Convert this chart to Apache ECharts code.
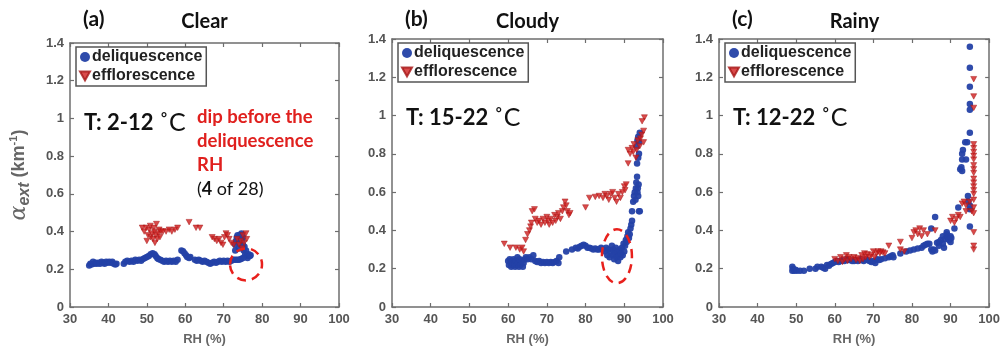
<!DOCTYPE html>
<html><head><meta charset="utf-8">
<script src="https://cdn.jsdelivr.net/npm/echarts@6/dist/echarts.min.js"></script>
<style>html,body{margin:0;padding:0;background:#fff}#c{width:1003px;height:351px}</style>
</head><body><div id="c"></div>
<script>
// ---------- data ----------
const panelLetters = ['(a)', '(b)', '(c)'];
const panelTitles = ['Clear', 'Cloudy', 'Rainy'];
const tempLabels = ['T: 2-12 ', 'T: 15-22 ', 'T: 12-22 '];
const seriesNames = ['deliquescence', 'efflorescence'];
const xTickMin = 30, xTickMax = 100, xTickStep = 10;
const yTickMin = 0, yTickMax = 1.4, yTickStep = 0.2;
const xName = 'RH (%)';
const noteLines = ['dip before the', 'deliquescence', 'RH'];
const noteCount = ['4', ' of 28)'];
// ellipse centres in data units [RH, value]
const dipCentres = [[75.8, 0.226], [88.1, 0.265]];

const aDeli = [[35.0,0.22],[35.3,0.23],[35.6,0.225],[36.0,0.24],[36.3,0.23],[36.7,0.235],[37.0,0.23],[37.4,0.235],[37.8,0.23],[38.2,0.24],[38.6,0.235],[39.0,0.23],[39.4,0.24],[39.8,0.235],[40.2,0.24],[40.6,0.235],[41.0,0.24],[41.4,0.23],[41.8,0.225],[42.1,0.23],
[44.0,0.23],[44.4,0.24],[44.9,0.245],[45.5,0.24],[46.0,0.245],[46.5,0.24],[47.0,0.25],[47.5,0.245],[48.0,0.25],[48.5,0.245],[49.0,0.255],[49.5,0.26],[50.0,0.265],[50.5,0.27],[51.0,0.28],[51.5,0.285],[52.0,0.28],[52.3,0.27],[52.7,0.26],[53.0,0.255],[53.5,0.25],[54.0,0.245],[54.5,0.24],[55.0,0.245],[55.5,0.24],[56.0,0.245],[56.5,0.24],[57.0,0.245],[57.5,0.24],[58.0,0.25],
[59.0,0.30],[59.4,0.295],[59.8,0.285],[60.2,0.275],[60.5,0.265],[61.0,0.26],[61.3,0.265],
[62.5,0.25],[63.0,0.245],[63.5,0.25],[64.0,0.245],[64.5,0.24],[65.0,0.245],[65.5,0.24],[66.0,0.235],[66.5,0.23],[67.0,0.235],[67.5,0.24],[68.0,0.235],[68.5,0.24],[69.0,0.245],[69.5,0.24],[70.0,0.245],[70.5,0.24],[71.0,0.245],[71.5,0.24],[72.0,0.245],[72.5,0.25],[73.0,0.25],
[73.0,0.30],[73.0,0.33],[73.2,0.35],[73.4,0.37],[73.6,0.38],[73.8,0.36],[74.0,0.34],[74.0,0.31],[74.2,0.38],[74.4,0.36],[74.6,0.39],[74.8,0.35],[75.0,0.33],[75.0,0.37],[75.2,0.30],[75.4,0.32],[75.6,0.28],[75.8,0.30],[76.0,0.27],[76.2,0.26],[76.5,0.28],[76.8,0.27],[77.0,0.275],[74.0,0.25],[74.5,0.255],[75.0,0.26],[73.5,0.25]];

const aEffl = [[48.8,0.42],[49.3,0.40],[49.8,0.42],[50.0,0.35],[50.3,0.38],[50.6,0.41],[50.9,0.43],[51.0,0.37],[51.3,0.39],[51.6,0.36],[51.8,0.42],[52.0,0.40],[52.1,0.34],[52.3,0.38],[52.5,0.44],[52.7,0.36],[53.0,0.39],[53.2,0.41],[53.4,0.37],[53.7,0.40],[54.2,0.40],[55.0,0.40],[55.8,0.41],[56.5,0.40],[57.3,0.41],[58.0,0.42],[61.0,0.45],[62.8,0.42],[63.8,0.42],[67.0,0.37],[67.6,0.36],[68.2,0.35],[68.8,0.36],[69.3,0.34],[69.8,0.33],[70.2,0.37],[70.6,0.39],[71.0,0.38],[71.4,0.36],[72.0,0.34],[72.6,0.33],[73.5,0.36],[74.0,0.33],[74.5,0.35],[75.0,0.38],[75.3,0.34],[75.8,0.39],[76.0,0.36],[74.8,0.31]];

const bDeli = [[60.0,0.24],[60.2,0.22],[60.4,0.25],[60.6,0.23],[60.8,0.21],[61.0,0.24],[61.2,0.22],[61.4,0.25],[61.6,0.23],[61.8,0.21],[62.0,0.24],[62.2,0.22],[62.4,0.26],[62.6,0.23],[62.8,0.21],[63.0,0.25],[63.2,0.22],[63.5,0.24],[63.8,0.21],[64.0,0.23],[64.3,0.25],[64.6,0.26],[65.0,0.25],[65.5,0.26],[66.0,0.25],[66.5,0.27],[67.0,0.24],[67.5,0.235],[68.0,0.24],[68.5,0.23],[69.0,0.235],[69.5,0.23],[70.0,0.235],[70.5,0.23],[71.0,0.235],[71.5,0.23],[72.0,0.235],[72.5,0.24],[73.0,0.23],[73.2,0.26],[75.0,0.29],[76.5,0.30],[77.5,0.31],[78.0,0.305],[78.5,0.315],[79.0,0.32],[79.5,0.325],[80.0,0.32],[80.5,0.31],[81.0,0.31],[81.5,0.305],[82.0,0.30],[82.5,0.305],[83.0,0.30],[83.5,0.30],[84.0,0.31],[84.5,0.30],
[85.0,0.29],[85.3,0.31],[85.6,0.27],[85.9,0.30],[86.2,0.26],[86.5,0.29],[86.8,0.32],[87.0,0.27],[87.2,0.30],[87.4,0.25],[87.6,0.28],[87.8,0.31],[88.0,0.26],[88.2,0.29],[88.4,0.24],[88.6,0.27],[88.8,0.30],[89.0,0.26],[89.2,0.28],[89.4,0.31],[89.6,0.27],[89.8,0.33],[90.0,0.29],[90.2,0.32],[90.4,0.35],[90.6,0.34],[90.8,0.37],[91.0,0.39],[91.2,0.36],[91.4,0.38],[91.6,0.41],[91.8,0.43],[92.0,0.45],[92.0,0.50],[92.3,0.55],[92.5,0.58],[92.7,0.60],[92.9,0.56],[93.0,0.62],[93.1,0.65],[93.3,0.68],[93.4,0.60],[93.6,0.58],[93.8,0.50],[94.0,0.50],[93.3,0.75],[93.6,0.78],[93.8,0.80],[93.2,0.84],[93.4,0.87],[93.6,0.89],[93.8,0.86],[94.0,0.91],[93.5,0.62],[93.7,0.64]];

const bEffl = [[59.0,0.33],[60.5,0.31],[62.0,0.31],[63.0,0.30],[63.6,0.31],[64.0,0.29],[64.5,0.35],[65.0,0.38],[65.5,0.40],[65.8,0.42],[66.0,0.44],[66.2,0.50],[66.8,0.51],[67.0,0.46],[67.5,0.44],[68.0,0.45],[68.5,0.43],[69.0,0.46],[69.5,0.44],[70.0,0.47],[70.3,0.45],[70.6,0.43],[71.0,0.46],[71.5,0.44],[72.0,0.48],[72.3,0.45],[72.7,0.47],[73.0,0.49],[73.5,0.46],[74.0,0.50],[74.3,0.52],[74.7,0.55],[75.0,0.53],[75.3,0.50],[75.7,0.48],[76.0,0.49],[80.0,0.52],[81.0,0.57],[82.5,0.575],[83.5,0.58],[84.5,0.57],[85.0,0.59],[85.5,0.58],[86.0,0.56],[86.5,0.59],[87.0,0.60],[87.5,0.57],[88.0,0.55],[88.5,0.59],[89.0,0.57],[89.5,0.60],[90.0,0.63],[90.5,0.64],[90.2,0.61],[91.0,0.75],[91.0,0.82],[91.5,0.80],[92.0,0.83],[92.3,0.81],[92.5,0.85],[93.0,0.78],[93.2,0.82],[93.5,0.87],[94.0,0.84],[94.2,0.88],[94.5,0.90],[95.0,0.86],[95.0,0.92],[95.2,0.99],[94.6,0.97]];

const cDeli = [[49.0,0.19],[49.0,0.21],[49.2,0.20],[49.5,0.19],[49.8,0.195],[50.2,0.19],[51.0,0.19],[52.0,0.19],[53.5,0.20],[55.0,0.20],[55.5,0.21],[56.5,0.21],[57.0,0.205],[57.5,0.20],[58.0,0.22],[58.5,0.215],[59.0,0.225],[59.5,0.23],[60.0,0.235],[60.5,0.24],[61.0,0.235],[61.5,0.24],[62.0,0.245],[62.5,0.24],[63.0,0.25],[63.5,0.245],[64.0,0.245],[64.5,0.24],[65.0,0.24],[65.5,0.245],[66.0,0.24],[66.5,0.25],[67.0,0.245],[67.5,0.24],[68.0,0.25],[68.5,0.245],[69.0,0.24],[69.5,0.235],[70.0,0.24],[70.5,0.23],[71.0,0.25],[71.5,0.245],[72.0,0.25],[73.0,0.255],[74.0,0.26],[74.5,0.265],[75.0,0.27],[75.2,0.26],[77.0,0.28],[78.5,0.29],[79.5,0.295],[80.5,0.30],[81.5,0.305],[82.5,0.31],[83.0,0.32],[83.5,0.325],[84.0,0.33],[84.5,0.33],[85.0,0.30],[85.3,0.29],[85.6,0.30],[86.0,0.295],[85.0,0.41],[86.0,0.47],[86.5,0.335],[87.0,0.32],[87.0,0.34],[87.5,0.35],[88.0,0.33],[88.0,0.37],[88.3,0.31],[88.6,0.355],[89.0,0.38],[89.0,0.39],[89.3,0.36],[89.6,0.35],[90.0,0.37],[90.0,0.34],[90.2,0.36],[91.0,0.41],[92.0,0.52],[92.5,0.72],[92.8,0.73],[93.0,0.71],[93.0,0.77],[93.0,0.80],[93.2,0.82],[93.8,0.86],[94.0,0.77],[94.3,0.86],[94.5,0.58],[94.6,0.55],[95.0,0.53],[95.0,0.51],[95.0,0.91],[95.0,1.03],[95.0,1.06],[95.0,1.15],[95.0,1.25],[95.0,1.36],[95.0,0.42]];

const cEffl = [[60.0,0.25],[60.8,0.24],[61.5,0.26],[62.0,0.235],[62.5,0.25],[63.0,0.27],[63.3,0.24],[63.7,0.26],[64.2,0.25],[65.0,0.26],[65.5,0.245],[66.0,0.255],[66.5,0.24],[67.0,0.27],[67.3,0.25],[67.7,0.28],[68.0,0.26],[68.5,0.275],[69.0,0.26],[69.5,0.27],[70.0,0.29],[70.3,0.26],[70.8,0.28],[71.2,0.29],[71.7,0.28],[72.0,0.29],[72.5,0.285],[73.0,0.28],[74.0,0.32],[77.0,0.34],[77.0,0.30],[78.0,0.29],[80.0,0.36],[80.5,0.39],[81.0,0.40],[81.5,0.38],[82.0,0.41],[82.5,0.37],[83.0,0.40],[84.0,0.38],[86.0,0.40],[90.0,0.45],[90.5,0.47],[91.0,0.44],[91.5,0.46],[92.0,0.48],[92.5,0.47],[93.0,0.54],[93.5,0.55],[94.0,0.50],[94.0,0.53],[95.0,0.55],[95.5,0.50],
[96.0,0.52],[96.0,0.49],[96.0,0.56],[96.0,0.59],[96.0,0.61],[96.0,0.63],[96.0,0.65],[96.0,0.67],[96.0,0.70],[96.0,0.72],[96.0,0.74],[96.0,0.77],[96.0,0.79],[96.0,0.81],[96.0,0.83],[96.0,0.85],[96.0,0.39],[96.0,0.32],[96.0,0.30],[96.0,1.04],[96.0,1.10],[96.0,1.19]];

const panelDeli = [aDeli, bDeli, cDeli];
const panelEffl = [aEffl, bEffl, cEffl];

// ---------- styles / layout ----------
const BLUE = '#2441a6', RED = '#d01e1e', AX = '#6e6e6e';
const triPath = 'path://M0,0L10,0L5,9Z';
const grids = [
  {left: 70, top: 43, width: 269, height: 266},
  {left: 392, top: 39, width: 271, height: 269},
  {left: 719, top: 39, width: 271, height: 271}
];
const tickFont = {color: '#555', fontWeight: 'bold', fontSize: 13, fontFamily: 'Liberation Sans, Arial, sans-serif'};

const xAxis = [], yAxis = [], series = [], legend = [];
grids.forEach((g, i) => {
  const line = {show: true, onZero: false, lineStyle: {color: AX, width: 1.5}};
  const tick = {show: true, inside: true, length: 4, lineStyle: {color: AX, width: 1.2}};
  xAxis.push({gridIndex: i, type: 'value', position: 'bottom', min: xTickMin, max: xTickMax, interval: xTickStep,
    axisLine: line, axisTick: tick, splitLine: {show: false},
    axisLabel: Object.assign({margin: 6}, tickFont),
    name: xName, nameLocation: 'middle', nameGap: 26,
    nameTextStyle: {color: '#666', fontWeight: 'bold', fontSize: 13, fontFamily: 'Liberation Sans, Arial, sans-serif'}});
  xAxis.push({gridIndex: i, type: 'value', position: 'top', min: xTickMin, max: xTickMax, interval: xTickStep,
    axisLine: line, axisTick: tick, splitLine: {show: false}, axisLabel: {show: false}});
  const yl = {gridIndex: i, type: 'value', position: 'left', min: yTickMin, max: yTickMax, interval: yTickStep,
    axisLine: line, axisTick: tick, splitLine: {show: false},
    axisLabel: Object.assign({margin: 6, formatter: v => String(+v.toFixed(1))}, tickFont)};
  if (i === 0) {
    yl.name = '{a|α}{s|ext}{p| (km}{u|-1}{p|)}';
    yl.nameLocation = 'middle';
    yl.nameRotate = 90;
    yl.nameGap = 36;
    yl.nameTextStyle = {color: '#666', rich: {
      a: {fontFamily: 'DejaVu Serif', fontStyle: 'italic', fontSize: 22, color: '#666', verticalAlign: 'middle', lineHeight: 30},
      s: {fontFamily: 'Liberation Sans', fontStyle: 'italic', fontWeight: 'bold', fontSize: 16, color: '#666', padding: [12, 0, 0, 0], lineHeight: 30},
      p: {fontFamily: 'Liberation Sans', fontWeight: 'bold', fontSize: 18, color: '#666', lineHeight: 30},
      u: {fontFamily: 'Liberation Sans', fontWeight: 'bold', fontSize: 11, color: '#666', padding: [0, 0, 10, 0], lineHeight: 30}
    }};
  }
  yAxis.push(yl);
  yAxis.push({gridIndex: i, type: 'value', position: 'right', min: yTickMin, max: yTickMax, interval: yTickStep,
    axisLine: line, axisTick: tick, splitLine: {show: false}, axisLabel: {show: false}});

  series.push({name: seriesNames[0], type: 'scatter', xAxisIndex: 2 * i, yAxisIndex: 2 * i,
    data: panelDeli[i], symbol: 'circle', symbolSize: 6.5, itemStyle: {color: BLUE, opacity: 0.95}});
  series.push({name: seriesNames[1], type: 'scatter', xAxisIndex: 2 * i, yAxisIndex: 2 * i,
    data: panelEffl[i], symbol: triPath, symbolSize: [6, 5.5], itemStyle: {color: RED, borderColor: '#a51515', borderWidth: 0.6}});

  legend.push({orient: 'vertical', left: g.left + 6, top: g.top + 4,
    backgroundColor: '#fff', borderColor: '#555', borderWidth: 1.5, borderRadius: 0,
    padding: [2, 4, 2, 3], itemGap: 3, itemWidth: 10, itemHeight: 10,
    textStyle: {fontSize: 16, fontWeight: 'bold', color: '#222', fontFamily: 'Liberation Sans, Arial, sans-serif', padding: [0, 0, 0, -3]},
    selectedMode: false,
    data: [{name: seriesNames[0], icon: 'circle', itemStyle: {color: BLUE}},
           {name: seriesNames[1], icon: triPath, itemStyle: {color: RED}}]});
});

const titleFont = 'Lato, "Open Sans", sans-serif';
const graphic = [];
grids.forEach((g, i) => {
  graphic.push({type: 'text', left: g.left + 13, top: 9, style: {text: panelLetters[i], font: 'bold 21px ' + titleFont, fill: '#111'}});
  graphic.push({type: 'text', x: g.left + g.width / 2, y: 22, style: {text: panelTitles[i], font: 'bold 20px ' + titleFont, fill: '#111', align: 'center', verticalAlign: 'middle'}});
  graphic.push({type: 'text', x: g.left + 14, y: 80 + (i === 0 ? 43 : 38), style: {
    text: '{t|' + tempLabels[i] + '}{d|˚C}', verticalAlign: 'middle',
    rich: {t: {font: 'bold 22px ' + titleFont, fill: '#111'}, d: {font: '25px ' + titleFont, fill: '#111'}}}});
});
noteLines.forEach((t, k) => {
  graphic.push({type: 'text', x: 197, y: 117 + k * 24, style: {text: t, font: 'bold 18.5px ' + titleFont, fill: '#e0201e', verticalAlign: 'middle'}});
});
graphic.push({type: 'text', x: 197, y: 189, style: {text: '({b|' + noteCount[0] + '}{n|' + noteCount[1] + '}', verticalAlign: 'middle',
  font: '18px ' + titleFont, fill: '#111', rich: {b: {font: 'bold 18px ' + titleFont, fill: '#111'}, n: {font: '18px ' + titleFont, fill: '#111'}}}});

const chart = echarts.init(document.getElementById('c'), null, {renderer: 'canvas'});
chart.setOption({animation: false, backgroundColor: '#fff', grid: grids, xAxis, yAxis, series, legend, graphic});

// dashed ellipses anchored on data coordinates
const ellipseR = [[16, 16], [15, 27]];
dipCentres.forEach((c, i) => {
  const p = chart.convertToPixel({xAxisIndex: 2 * i, yAxisIndex: 2 * i}, c);
  graphic.push({type: 'ellipse', shape: {cx: p[0], cy: p[1], rx: ellipseR[i][0], ry: ellipseR[i][1]}, z: 100,
    style: {fill: 'none', stroke: '#e8201c', lineWidth: 2.5, lineDash: [9, 6]}});
});
chart.setOption({graphic});
</script></body></html>
